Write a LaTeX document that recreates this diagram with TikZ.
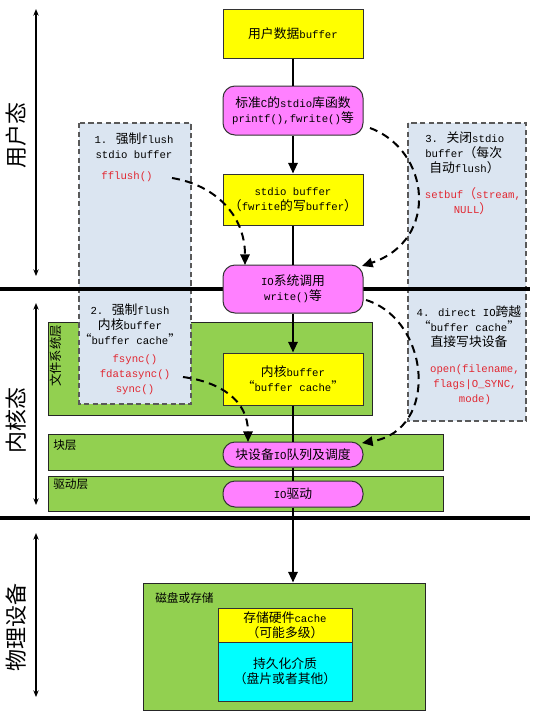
\documentclass[tikz,border=0pt]{standalone}
\usepackage{fontspec}
\setmainfont{Liberation Mono}
\newfontfamily\cjk[Scale=1.2]{Noto Sans CJK SC}
\usetikzlibrary{arrows.meta}
\newcommand\Z[1]{{\cjk #1}}
\definecolor{ycol}{RGB}{255,255,0}
\definecolor{mcol}{RGB}{255,128,255}
\definecolor{gcol}{RGB}{146,208,80}
\definecolor{bcol}{RGB}{219,229,241}
\definecolor{ccol}{RGB}{0,255,255}
\definecolor{rcol}{RGB}{225,40,50}
\begin{document}
\begin{tikzpicture}[x=0.75pt,y=-0.75pt,
  txt/.style={font=\fontsize{8}{11.25}\selectfont, align=center, inner sep=0pt},
  yel/.style={txt, draw=black!80, line width=0.75pt, fill=ycol, minimum width=105pt},
  mag/.style={txt, draw=black!80, line width=0.75pt, fill=mcol, minimum width=105pt, rounded corners=9pt},
  layer/.style={draw=black!85, line width=0.75pt, fill=gcol},
  dbox/.style={draw=black!65, dash pattern=on 4pt off 2.5pt, line width=0.9pt, fill=bcol},
  flow/.style={line width=1.5pt},
  flowar/.style={line width=1.5pt, -{Triangle[length=8pt,width=7pt]}},
  darrow/.style={line width=1.5pt, dash pattern=on 6pt off 4pt, -{Triangle[length=8pt,width=7pt]}},
  redt/.style={txt, text=rcol},
  big/.style={font=\fontsize{13.75}{16}\selectfont, rotate=90, inner sep=0pt},
  lbl/.style={font=\fontsize{7.3}{9}\selectfont, inner sep=0pt, anchor=west},
  axis/.style={line width=1.2pt, {Stealth[length=5pt,width=4pt]}-{Stealth[length=5pt,width=4pt]}},
  sepline/.style={line width=3pt}
]
\useasboundingbox (0,0) rectangle (542,715);
\fill[white] (0,0) rectangle (542,715);

% layers
\draw[layer] (48,322) rectangle (372,415);
\draw[layer] (48,434) rectangle (443,470);
\draw[layer] (48,476) rectangle (443,511);
\node[layer, minimum width=211.5pt, minimum height=95.25pt, inner sep=0pt] (disk) at (284,646.5) {};

% dashed boxes
\draw[dbox] (79,123) rectangle (191,404);
\draw[dbox] (408,123) rectangle (526,421);

% separators
\draw[sepline] (0,289) -- (530,289);
\draw[sepline] (0,518) -- (530,518);

% axes
\coordinate (a1) at (36,9); \coordinate (a2) at (36,276);
\coordinate (a3) at (36,303); \coordinate (a4) at (36,505);
\coordinate (a5) at (36,533); \coordinate (a6) at (36,697);
\draw[axis] (a1) -- (a2);
\draw[axis] (a3) -- (a4);
\draw[axis] (a5) -- (a6);
\node[big] (l1) at (16,135) {\Z{用户态}};
\node[big] (l2) at (16,420) {\Z{内核态}};
\node[big] (l3) at (16,627) {\Z{物理设备}};

% layer labels
\node[lbl, rotate=90, anchor=center, font=\fontsize{7.7}{9}\selectfont] (fsl) at (56,356) {\Z{文件系统层}};
\node[lbl] (bll) at (53,445) {\Z{块层}};
\node[lbl] (drl) at (53,484) {\Z{驱动层}};
\node[lbl] (dkl) at (155,598) {\Z{磁盘或存储}};

% main nodes
\node[yel, minimum height=36.75pt] (ud) at (293,33.5) {\Z{用户数据}buffer};
\node[mag, minimum height=36.75pt] (stdc) at (293,110.5) {\Z{标准}C\Z{的}stdio\Z{库函数}\\printf(),fwrite()\Z{等}};
\node[yel, minimum height=38.25pt] (sbuf) at (293,199.5) {stdio buffer\\\Z{（}fwrite\Z{的写}buffer\Z{）}};
\node[mag, minimum height=36pt] (io) at (293,289) {IO\Z{系统调用}\\write()\Z{等}};
\node[yel, minimum height=39pt] (kbuf) at (293,379) {\Z{内核}buffer\\\Z{“}buffer cache\Z{”}};
\node[mag, minimum height=18.75pt] (blk) at (293,454.5) {\Z{块设备}IO\Z{队列及调度}};
\node[mag, minimum height=19.5pt] (drv) at (293,494) {IO\Z{驱动}};
\node[yel, minimum width=100.5pt, minimum height=25.5pt] (hwc) at (285,625) {\Z{存储硬件}cache\\\Z{（可能多级）}};
\node[txt, draw=black!80, line width=0.75pt, fill=ccol, minimum width=100.5pt, minimum height=44.25pt] (media) at (285,671.5) {\Z{持久化介质}\\\Z{（盘片或者其他）}};

% box texts
\node[txt] (b1t) at (134,145.5) {1. \Z{强制}flush\\stdio buffer};
\node[redt] (ff) at (127,177) {fflush()};
\node[txt] (b2t) at (130,324) {2. \Z{强制}flush\\\Z{内核}buffer\\\Z{“}buffer cache\Z{”}};
\node[redt] (b2r) at (135,375) {fsync()\\fdatasync()\\sync()};
\node[txt, align=left, anchor=west] (b3t) at (425,153) {3. \Z{关闭}stdio\\buffer\Z{（每次}\\\hspace{3pt}\Z{自动}flush\Z{）}};
\node[redt] (b3r) at (473,201) {setbuf\Z{（}stream,\\NULL\Z{）}};
\node[txt] (b4t) at (469,327) {4. direct IO\Z{跨越}\\\Z{“}buffer cache\Z{”}\\\Z{直接写块设备}};
\node[redt] (b4r) at (475,385) {open(filename,\\flags|O\_SYNC,\\mode)};

% main flow
\draw[flow] (ud) -- (stdc);
\draw[flowar] (stdc) -- (sbuf);
\draw[flow] (sbuf) -- (io);
\draw[flowar] (io) -- (kbuf);
\draw[flow] (kbuf) -- (blk);
\draw[flow] (blk) -- (drv);
\draw[flowar] (drv) -- (drv |- disk.north);

% dashed arrows
\coordinate (s1) at (172,178); \coordinate (t1) at (245,265);
\coordinate (s2) at (183,377); \coordinate (t2) at (248,442);
\coordinate (s3) at (370,128); \coordinate (t3) at (362,266);
\coordinate (s4) at (366,300); \coordinate (t4) at (362,443);
\draw[darrow] (s1) .. controls (215,185) and (245,215) .. (t1);
\draw[darrow] (s2) .. controls (220,382) and (248,400) .. (t2);
\draw[darrow] (s3) .. controls (430,150) and (440,240) .. (t3);
\draw[darrow] (s4) .. controls (430,320) and (440,430) .. (t4);
\end{tikzpicture}
\end{document}
